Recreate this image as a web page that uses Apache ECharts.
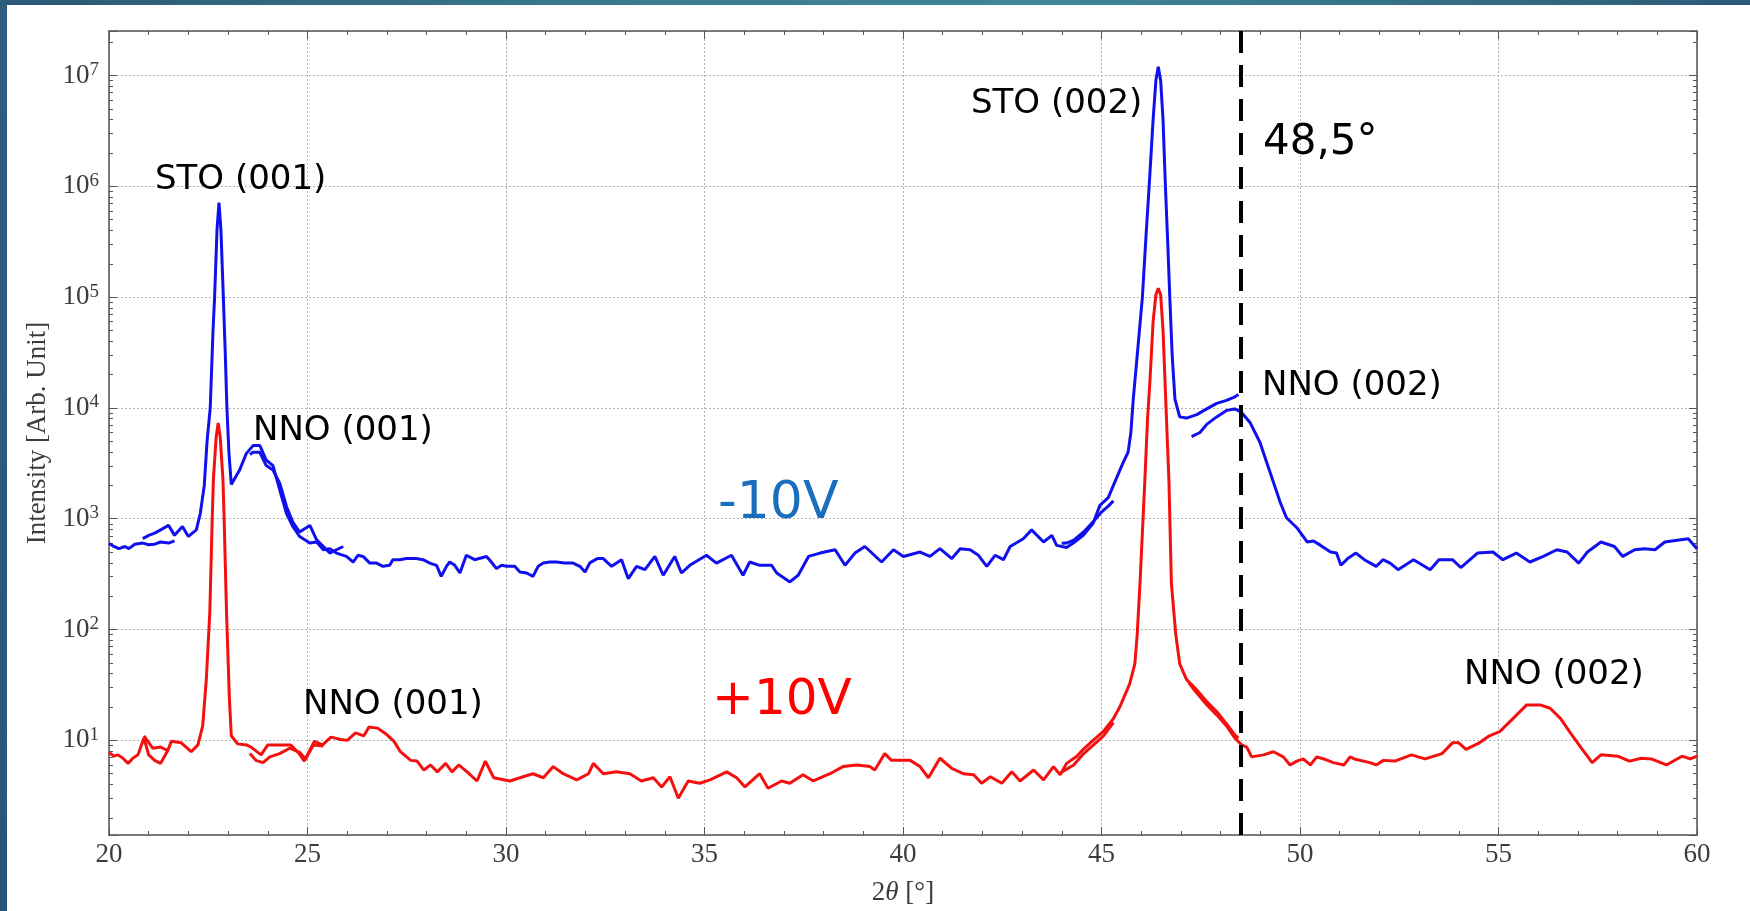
<!DOCTYPE html>
<html>
<head>
<meta charset="utf-8">
<title>XRD</title>
<script src="https://cdn.jsdelivr.net/npm/echarts@6/dist/echarts.min.js"></script>
<style>
    html, body { margin: 0; padding: 0; background: #ffffff; }
    #lineChart { width: 1750px; height: 911px; }
</style>
</head>
<body>
<div id="lineChart"></div>
<script>
// x tick labels (2theta) and y decades (10^n)
var xTicks = [20, 25, 30, 35, 40, 45, 50, 55, 60];
var yDecades = [1, 2, 3, 4, 5, 6, 7];

// -10V scans [2theta, intensity]
var blueScanA = [[20.0, 600], [20.12, 562], [20.25, 537], [20.4, 562], [20.5, 537], [20.65, 589], [20.85, 603], [21.0, 582], [21.15, 589], [21.3, 617], [21.5, 603], [21.65, 631]];
var blueScanB = [[20.85, 661], [21.0, 708], [21.15, 741], [21.3, 794], [21.5, 871], [21.65, 708], [21.85, 851], [22.0, 692], [22.2, 794], [22.3, 1120], [22.4, 2000], [22.47, 5000], [22.55, 10000], [22.62, 50000], [22.66, 100000], [22.72, 400000], [22.77, 713000], [22.82, 400000], [22.88, 100000], [22.93, 30000], [22.97, 10000], [23.02, 4000], [23.08, 2040], [23.29, 2750], [23.46, 3890], [23.63, 4570], [23.8, 4570], [23.96, 3390], [24.13, 3020], [24.3, 1820], [24.47, 1120], [24.63, 851], [24.8, 692], [25.06, 603], [25.23, 617], [25.4, 525], [25.56, 537], [25.73, 490], [25.98, 457], [26.15, 407], [26.27, 468], [26.4, 457], [26.57, 398], [26.74, 398], [26.9, 372], [27.07, 380], [27.15, 427], [27.32, 427], [27.49, 437], [27.74, 437], [27.91, 427], [28.08, 398], [28.25, 380], [28.37, 302], [28.5, 372], [28.58, 407], [28.71, 380], [28.84, 324], [29.0, 468], [29.21, 427], [29.51, 457], [29.63, 407], [29.76, 355], [29.89, 380], [30.01, 372], [30.22, 372], [30.35, 331], [30.52, 324], [30.68, 302], [30.81, 372], [30.94, 398], [31.1, 407], [31.27, 407], [31.48, 398], [31.69, 398], [31.86, 372], [31.99, 331], [32.11, 400], [32.3, 437], [32.45, 437], [32.66, 372], [32.91, 427], [33.08, 288], [33.29, 372], [33.5, 347], [33.75, 457], [33.96, 309], [34.25, 457], [34.42, 324], [34.63, 380], [35.05, 468], [35.3, 398], [35.68, 468], [35.97, 309], [36.14, 407], [36.39, 380], [36.69, 380], [36.82, 324], [37.15, 269], [37.36, 309], [37.62, 457], [37.91, 490], [38.29, 525], [38.54, 380], [38.79, 490], [39.04, 562], [39.46, 407], [39.76, 525], [40.01, 457], [40.43, 501], [40.68, 457], [40.93, 537], [41.23, 437], [41.44, 537], [41.69, 525], [41.9, 468], [42.11, 372], [42.32, 468], [42.53, 427], [42.7, 562], [43.03, 661], [43.24, 794], [43.54, 617], [43.75, 708], [43.87, 575], [44.12, 550], [44.29, 603], [44.54, 708], [44.79, 912], [44.96, 1320], [45.17, 1550], [45.38, 2340], [45.55, 3240], [45.67, 3980], [45.74, 6000], [45.8, 12000], [45.9, 30000], [46.03, 100000], [46.12, 350000], [46.2, 1000000], [46.3, 4000000], [46.37, 9000000], [46.43, 12000000], [46.49, 9000000], [46.55, 4000000], [46.61, 1000000], [46.67, 300000], [46.72, 100000], [46.78, 30000], [46.85, 12000], [46.97, 8300], [47.14, 8100], [47.4, 8700], [47.65, 9800], [47.9, 11000], [48.15, 11700], [48.36, 12600], [48.45, 13200]];
var blueScanC = [[23.55, 3800], [23.63, 3980], [23.8, 3980], [23.96, 3020], [24.13, 2750], [24.3, 2090], [24.47, 1290], [24.63, 933], [24.8, 759], [25.06, 871], [25.23, 646], [25.4, 562], [25.56, 490], [25.73, 525], [25.9, 562]];
var blueScanD = [[44.0, 600], [44.12, 603], [44.3, 640], [44.55, 760], [44.8, 950], [45.0, 1150], [45.17, 1300], [45.3, 1450]];
var blueScanE = [[47.27, 5500], [47.48, 6000], [47.65, 7100], [47.9, 8300], [48.15, 9500], [48.36, 9800], [48.53, 9100], [48.74, 7400], [48.99, 4900], [49.16, 3240], [49.33, 2140], [49.5, 1410], [49.66, 1020], [49.92, 830], [50.18, 617], [50.34, 631], [50.52, 575], [50.77, 501], [50.92, 490], [51.03, 380], [51.2, 437], [51.41, 490], [51.62, 427], [51.92, 372], [52.09, 427], [52.27, 398], [52.47, 347], [52.86, 427], [53.28, 347], [53.5, 427], [53.84, 427], [54.05, 363], [54.47, 490], [54.86, 501], [55.11, 427], [55.45, 490], [55.79, 407], [56.13, 457], [56.47, 525], [56.73, 501], [57.02, 398], [57.24, 501], [57.58, 617], [57.92, 562], [58.13, 457], [58.43, 525], [58.68, 537], [58.94, 525], [59.19, 617], [59.5, 640], [59.78, 661], [60.0, 537]];

// +10V scans [2theta, intensity]
var redScanA = [[20.0, 7.8], [20.12, 7.2], [20.23, 7.4], [20.35, 6.9], [20.48, 6.2], [20.6, 6.9], [20.73, 7.4], [20.88, 10.5], [21.0, 7.4], [21.15, 6.6], [21.3, 6.2], [21.48, 8.1]];
var redScanB = [[20.88, 11], [21.1, 8.5], [21.3, 8.7], [21.48, 8.1], [21.57, 9.8], [21.82, 9.5], [22.07, 7.9], [22.24, 9.1], [22.36, 13.5], [22.45, 35], [22.54, 145], [22.6, 1000], [22.63, 2290], [22.7, 5500], [22.75, 7300], [22.8, 5500], [22.87, 2290], [22.9, 1000], [22.96, 145], [23.03, 25], [23.08, 11], [23.24, 9.3], [23.46, 9.1], [23.58, 8.7], [23.83, 7.4], [24.0, 9.1], [24.33, 9.1], [24.58, 9.1], [24.79, 7.6], [24.92, 6.5], [25.17, 9.8], [25.38, 9.1], [25.59, 10.7], [25.84, 10.2], [26.0, 10], [26.21, 11.7], [26.42, 11], [26.55, 13.2], [26.76, 12.9], [26.97, 11.5], [27.18, 9.8], [27.34, 7.9], [27.6, 6.6], [27.76, 6.5], [27.93, 5.4], [28.1, 6.0], [28.27, 5.2], [28.48, 6.2], [28.64, 5.2], [28.81, 6.0], [29.02, 5.2], [29.27, 4.3], [29.48, 6.5], [29.69, 4.6], [30.1, 4.3], [30.43, 4.7], [30.68, 5.0], [30.94, 4.6], [31.19, 5.8], [31.44, 5.0], [31.78, 4.4], [32.08, 5.0], [32.2, 6.2], [32.45, 5.0], [32.78, 5.2], [33.12, 5.0], [33.41, 4.3], [33.71, 4.6], [33.92, 3.8], [34.13, 4.7], [34.34, 3.0], [34.59, 4.3], [34.88, 4.1], [35.14, 4.4], [35.56, 5.2], [35.81, 4.6], [36.02, 3.8], [36.39, 5.0], [36.6, 3.7], [36.94, 4.3], [37.15, 4.1], [37.48, 4.9], [37.74, 4.3], [38.16, 5.0], [38.49, 5.8], [38.83, 6.0], [39.17, 5.8], [39.29, 5.4], [39.54, 7.6], [39.71, 6.6], [40.18, 6.6], [40.43, 5.8], [40.64, 4.6], [40.93, 6.9], [41.23, 5.6], [41.52, 5.0], [41.78, 4.9], [41.98, 4.1], [42.2, 4.7], [42.49, 4.1], [42.74, 5.2], [42.95, 4.3], [43.29, 5.4], [43.54, 4.4], [43.79, 5.8], [43.96, 4.9], [44.12, 6.2], [44.38, 7.2], [44.54, 8.3], [44.79, 10], [45.04, 12], [45.29, 15.5], [45.46, 20], [45.71, 32.4], [45.84, 49], [45.9, 91], [45.97, 263], [46.09, 2140], [46.16, 8000], [46.22, 17400], [46.3, 60000], [46.37, 105000], [46.43, 120000], [46.49, 105000], [46.55, 50000], [46.6, 17400], [46.65, 6000], [46.7, 2140], [46.76, 263], [46.87, 91], [46.97, 49], [47.14, 35.5], [47.39, 28.8], [47.65, 22.4], [47.9, 18.2], [48.15, 14.1], [48.36, 11.2], [48.45, 10.5]];
var redScanC = [[23.55, 7.6], [23.7, 6.6], [23.88, 6.3], [24.05, 7.1], [24.3, 7.6], [24.55, 8.5], [24.8, 7.8], [24.95, 6.8], [25.15, 9.1], [25.4, 8.9]];
var redScanD = [[44.0, 5.2], [44.3, 6.0], [44.55, 7.6], [44.8, 9.1], [45.05, 11], [45.3, 14.5]];
var redScanE = [[47.2, 33], [47.39, 27], [47.65, 21], [47.9, 17], [48.15, 13.5], [48.36, 10.5], [48.53, 9.1], [48.66, 8.7], [48.78, 7.1], [49.08, 7.4], [49.33, 7.9], [49.58, 7.1], [49.75, 6.0], [49.92, 6.5], [50.08, 6.8], [50.26, 6.0], [50.42, 7.1], [50.6, 6.8], [50.84, 6.3], [51.11, 6.0], [51.26, 7.1], [51.37, 6.8], [51.76, 6.3], [51.92, 6.0], [52.1, 6.6], [52.39, 6.5], [52.81, 7.4], [53.15, 6.8], [53.58, 7.6], [53.84, 9.5], [54.0, 9.5], [54.18, 8.3], [54.52, 9.5], [54.77, 11], [55.03, 12], [55.37, 15.8], [55.71, 20.9], [56.05, 20.9], [56.3, 19.5], [56.56, 15.8], [56.81, 11.7], [57.11, 8.3], [57.36, 6.3], [57.58, 7.4], [58.0, 7.2], [58.3, 6.5], [58.6, 6.9], [58.85, 6.8], [59.23, 6.0], [59.62, 7.2], [59.83, 6.8], [60.0, 7.2]];

// reference line position (deg)
var markAngle = 48.5;

var BLUE = '#1010ee';
var RED = '#f51010';
var AXIS_COLOR = '#555555';
var LABEL_COLOR = '#3c3c3c';
var SERIF = '"Liberation Serif", "DejaVu Serif", serif';
var SANS = '"DejaVu Sans", sans-serif';

//生成一条曲线
function makeLine(name, color, data) {
    return {
        name: name,
        type: 'line',
        data: data,
        showSymbol: false,
        symbol: 'none',
        smooth: false,
        lineStyle: { color: color, width: 3 },
        silent: true,
        animation: false,
        z: 3
    };
}

//y轴刻度文字 10^n
function decadeLabel(value) {
    var e = Math.round(Math.log(value) / Math.LN10);
    if (Math.abs(Math.log(value) / Math.LN10 - e) > 1e-6) return '';
    if (yDecades.indexOf(e) < 0) return '';
    return '{b|10}{s|' + e + '}';
}

//注释文字 (cy: 文字中线位置)
function note(text, left, cy, size, color) {
    return {
        type: 'text',
        left: left,
        top: cy - size * 0.39,
        silent: true,
        z: 10,
        style: {
            text: text,
            fontFamily: SANS,
            fontSize: size,
            fill: color || '#000000'
        }
    };
}

function initLineChart() {
    var chart = echarts.init(document.getElementById('lineChart'), null, { renderer: 'canvas' });

    var xCommon = {
        type: 'value',
        min: xTicks[0],
        max: xTicks[xTicks.length - 1],
        interval: 5,
        axisLine: { show: true, onZero: false, lineStyle: { color: AXIS_COLOR, width: 1.5 } },
        axisTick: { show: true, inside: true, length: 8, lineStyle: { color: AXIS_COLOR, width: 1 } },
        minorTick: { show: true, splitNumber: 5, length: 4, lineStyle: { color: AXIS_COLOR, width: 1 } },
        splitLine: { show: false }
    };
    var yCommon = {
        type: 'log',
        logBase: 10,
        min: 1.4,
        max: 2.52e7,
        axisLine: { show: true, onZero: false, lineStyle: { color: AXIS_COLOR, width: 1.5 } },
        axisTick: { show: true, inside: true, length: 8, lineStyle: { color: AXIS_COLOR, width: 1 } },
        minorTick: { show: true, splitNumber: 9, length: 4, lineStyle: { color: AXIS_COLOR, width: 1 } },
        splitLine: { show: false }
    };

    var option = {
        backgroundColor: '#ffffff',
        animation: false,
        grid: { left: 109, right: 53, top: 31, bottom: 74, containLabel: false },
        xAxis: [
            echarts.util.merge({
                position: 'bottom',
                name: '2{i|θ} [°]',
                nameLocation: 'middle',
                nameGap: 44,
                nameTextStyle: {
                    fontFamily: SERIF, fontSize: 27, color: LABEL_COLOR,
                    rich: { i: { fontFamily: SERIF, fontStyle: 'italic', fontSize: 27, color: LABEL_COLOR } }
                },
                axisLabel: { show: true, margin: 6, fontFamily: SERIF, fontSize: 27, color: LABEL_COLOR },
                splitLine: { show: true, lineStyle: { color: '#b4b4b4', width: 1, type: [2, 2] } }
            }, xCommon, false),
            echarts.util.merge({
                position: 'top',
                axisLabel: { show: false }
            }, xCommon, false)
        ],
        yAxis: [
            echarts.util.merge({
                position: 'left',
                name: 'Intensity [Arb. Unit]',
                nameLocation: 'middle',
                nameRotate: 90,
                nameGap: 55,
                nameTextStyle: { fontFamily: SERIF, fontSize: 27, color: LABEL_COLOR },
                axisLabel: {
                    show: true,
                    margin: 10,
                    showMinLabel: false,
                    showMaxLabel: false,
                    formatter: decadeLabel,
                    rich: {
                        b: { fontFamily: SERIF, fontSize: 27, color: LABEL_COLOR, lineHeight: 30 },
                        s: { fontFamily: SERIF, fontSize: 19, color: LABEL_COLOR, lineHeight: 16, verticalAlign: 'top' }
                    }
                },
                splitLine: { show: true, lineStyle: { color: '#b4b4b4', width: 1, type: [2, 2] } }
            }, yCommon, false),
            echarts.util.merge({
                position: 'right',
                axisLabel: { show: false }
            }, yCommon, false)
        ],
        graphic: [
            // 顶部与左侧的装饰条
            {
                type: 'rect', left: 0, top: 0, silent: true, z: 20,
                shape: { width: 1750, height: 5 },
                style: {
                    fill: new echarts.graphic.LinearGradient(0, 0, 1, 0, [
                        { offset: 0, color: '#2b5878' },
                        { offset: 0.35, color: '#3a7a8e' },
                        { offset: 0.6, color: '#3f8796' },
                        { offset: 1, color: '#2c5a7a' }
                    ])
                }
            },
            {
                type: 'rect', left: 0, top: 0, silent: true, z: 20,
                shape: { width: 7, height: 911 },
                style: {
                    fill: new echarts.graphic.LinearGradient(0, 0, 0, 1, [
                        { offset: 0, color: '#2d5f7e' },
                        { offset: 1, color: '#2a5577' }
                    ])
                }
            },
            note('STO (001)', 155, 176, 34),
            note('NNO (001)', 253, 427, 34),
            note('NNO (001)', 303, 701, 34),
            note('STO (002)', 971, 100, 34),
            note('48,5°', 1263, 138, 42),
            note('NNO (002)', 1262, 382, 34),
            note('NNO (002)', 1464, 671, 34),
            note('-10V', 718, 499, 52, '#1a6fbd'),
            note('+10V', 712, 696, 50, '#ff0000')
        ],
        series: [
            makeLine('-10V a', BLUE, blueScanA),
            makeLine('-10V b', BLUE, blueScanB),
            makeLine('-10V c', BLUE, blueScanC),
            makeLine('-10V d', BLUE, blueScanD),
            makeLine('-10V e', BLUE, blueScanE),
            makeLine('+10V a', RED, redScanA),
            makeLine('+10V b', RED, redScanB),
            makeLine('+10V c', RED, redScanC),
            makeLine('+10V d', RED, redScanD),
            (function () {
                var s = makeLine('+10V e', RED, redScanE);
                s.markLine = {
                    silent: true,
                    symbol: 'none',
                    label: { show: false },
                    lineStyle: { color: '#000000', width: 4, type: [22, 12] },
                    data: [{ xAxis: markAngle }],
                    z: 5
                };
                return s;
            })()
        ]
    };
    chart.setOption(option);
}

initLineChart();
</script>
</body>
</html>
